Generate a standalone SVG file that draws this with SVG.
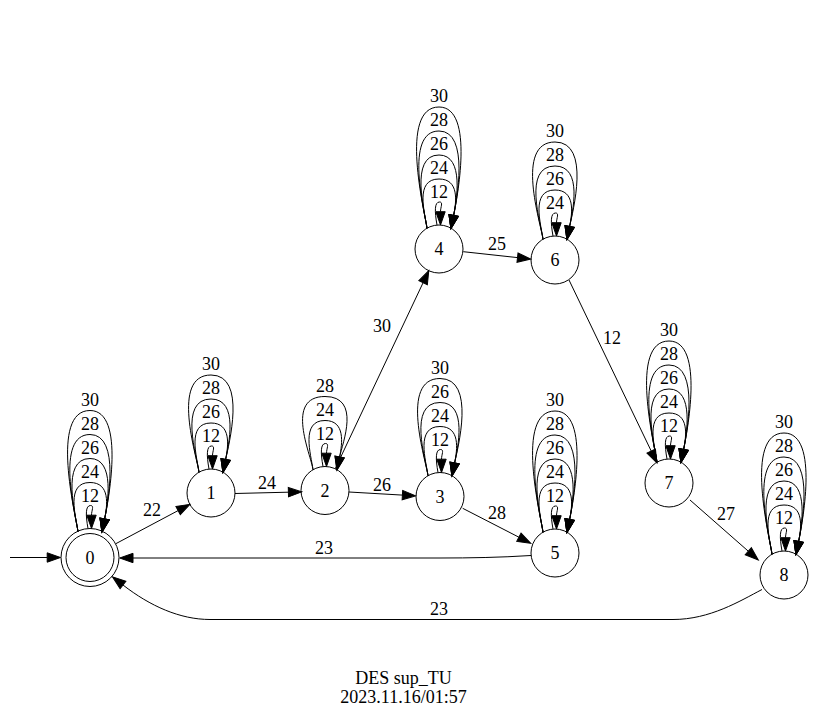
<svg xmlns="http://www.w3.org/2000/svg" width="813" height="719" viewBox="0 0 813 719">
<style>
.e{fill:none;stroke:#000;stroke-width:1;marker-end:url(#ah)}
.n{fill:none;stroke:#000;stroke-width:1}
text{font-family:'Liberation Serif','Times New Roman',Times,'DejaVu Serif',serif;font-size:18px;text-anchor:middle;fill:#000}
</style>
<defs>
<marker id="ah" viewBox="0 0 14 10" refX="0" refY="5" markerWidth="14" markerHeight="10" markerUnits="userSpaceOnUse" orient="auto" overflow="visible"><path d="M0,0.3 L13.3,5 L0,9.7 Z" fill="#000" stroke="#000" stroke-width="1"/></marker>
<path id="t" class="e" d="M-2,-24 C-4.5,-38 -4.5,-47 0.5,-47 C4.5,-47 1.5,-42 1.5,-37.3"/>
<path id="a1" class="e" d="M-12,-20.8 C-14,-36 -24.7,-70 0,-70 C20.4,-70 17.4,-47.2 14.6,-33.5"/>
<path id="a2a" class="e" d="M-12,-20.8 C-14,-36 -30,-94 0,-94 C25.7,-94 17.4,-47.2 14.6,-33.5"/>
<path id="a2b" class="e" d="M-12,-20.8 C-14,-36 -32.7,-94 0,-94 C28.4,-94 17.4,-47.2 14.6,-33.5"/>
<path id="a2c" class="e" d="M-12,-20.8 C-14,-36 -40.7,-94 0,-94 C36.4,-94 17.4,-47.2 14.6,-33.5"/>
<path id="a3a" class="e" d="M-12,-20.8 C-14,-36 -35.3,-118 0,-118 C31.1,-118 17.4,-47.2 14.6,-33.5"/>
<path id="a3b" class="e" d="M-12,-20.8 C-14,-36 -40.7,-118 0,-118 C36.4,-118 17.4,-47.2 14.6,-33.5"/>
<path id="a4" class="e" d="M-12,-20.8 C-14,-36 -40.7,-142 0,-142 C36.4,-142 17.4,-47.2 14.6,-33.5"/>
</defs>
<rect width="813" height="719" fill="#fff"/>
<g id="nodes">
<g id="node0"><circle class="n" cx="90" cy="557.5" r="24"/><circle class="n" cx="90" cy="557.5" r="29"/><text x="90" y="563.5">0</text></g>
<g id="node1"><circle class="n" cx="211" cy="493" r="24"/><text x="211" y="499">1</text></g>
<g id="node2"><circle class="n" cx="325" cy="490.5" r="24"/><text x="325" y="496.5">2</text></g>
<g id="node3"><circle class="n" cx="440" cy="496.5" r="24"/><text x="440" y="502.5">3</text></g>
<g id="node4"><circle class="n" cx="439" cy="249" r="24"/><text x="439" y="255">4</text></g>
<g id="node5"><circle class="n" cx="555" cy="553" r="24"/><text x="555" y="559">5</text></g>
<g id="node6"><circle class="n" cx="555" cy="260" r="24"/><text x="555" y="266">6</text></g>
<g id="node7"><circle class="n" cx="669" cy="483" r="24"/><text x="669" y="489">7</text></g>
<g id="node8"><circle class="n" cx="784" cy="575" r="24"/><text x="784" y="581">8</text></g>
</g>
<g id="edges">
<path class="e" d="M10,557.5 L47.2,557.5"/>
<path class="e" d="M116,543.6 L178.1,510.6"/>
<text x="152" y="516">22</text>
<path class="e" d="M235,493.5 L288.4,492.2"/>
<text x="267" y="489">24</text>
<path class="e" d="M349,492 L402.4,495.1"/>
<text x="382" y="491">26</text>
<path class="e" d="M462.7,508.3 L518.9,537.2"/>
<text x="497" y="519">28</text>
<path class="e" d="M335.2,468.8 L423.1,282.7"/>
<text x="382" y="332">30</text>
<path class="e" d="M463.3,251.7 L517.5,257.6"/>
<text x="497" y="250">25</text>
<path class="e" d="M569,280 L651.2,451"/>
<text x="612" y="344">12</text>
<path class="e" d="M690,500 L748.3,551.2"/>
<text x="726" y="520">27</text>
<path class="e" d="M531,555.5 C500,557.5 470,558 440,558 L133,558"/>
<text x="324" y="554">23</text>
<path class="e" d="M762,589.5 C740,601 710,619.5 673,619.5 L210,619.5 C180,619.5 150,606 123,585"/>
<text x="439" y="615">23</text>
<g transform="translate(90,552.5)"><use href="#t"/><use href="#a1"/><use href="#a2a"/><use href="#a3a"/><use href="#a4"/><text y="-51">12</text><text y="-75">24</text><text y="-99">26</text><text y="-123">28</text><text y="-147">30</text></g>
<g transform="translate(211,493)"><use href="#t"/><use href="#a1"/><use href="#a2b"/><use href="#a3b"/><text y="-51">12</text><text y="-75">26</text><text y="-99">28</text><text y="-123">30</text></g>
<g transform="translate(325,490.5)"><use href="#t"/><use href="#a1"/><use href="#a2c"/><text y="-51">12</text><text y="-75">24</text><text y="-99">28</text></g>
<g transform="translate(440,496.5)"><use href="#t"/><use href="#a1"/><use href="#a2b"/><use href="#a3b"/><text y="-51">12</text><text y="-75">24</text><text y="-99">26</text><text y="-123">30</text></g>
<g transform="translate(439,249)"><use href="#t"/><use href="#a1"/><use href="#a2a"/><use href="#a3a"/><use href="#a4"/><text y="-51">12</text><text y="-75">24</text><text y="-99">26</text><text y="-123">28</text><text y="-147">30</text></g>
<g transform="translate(555,553)"><use href="#t"/><use href="#a1"/><use href="#a2a"/><use href="#a3a"/><use href="#a4"/><text y="-51">12</text><text y="-75">24</text><text y="-99">26</text><text y="-123">28</text><text y="-147">30</text></g>
<g transform="translate(555,260)"><use href="#t"/><use href="#a1"/><use href="#a2b"/><use href="#a3b"/><text y="-51">24</text><text y="-75">26</text><text y="-99">28</text><text y="-123">30</text></g>
<g transform="translate(669,483)"><use href="#t"/><use href="#a1"/><use href="#a2a"/><use href="#a3a"/><use href="#a4"/><text y="-51">12</text><text y="-75">24</text><text y="-99">26</text><text y="-123">28</text><text y="-147">30</text></g>
<g transform="translate(784,575)"><use href="#t"/><use href="#a1"/><use href="#a2a"/><use href="#a3a"/><use href="#a4"/><text y="-51">12</text><text y="-75">24</text><text y="-99">26</text><text y="-123">28</text><text y="-147">30</text></g>
</g>
<g id="title">
<text x="403.5" y="684">DES sup_TU</text>
<text x="403.5" y="703">2023.11.16/01:57</text>
</g>
</svg>
